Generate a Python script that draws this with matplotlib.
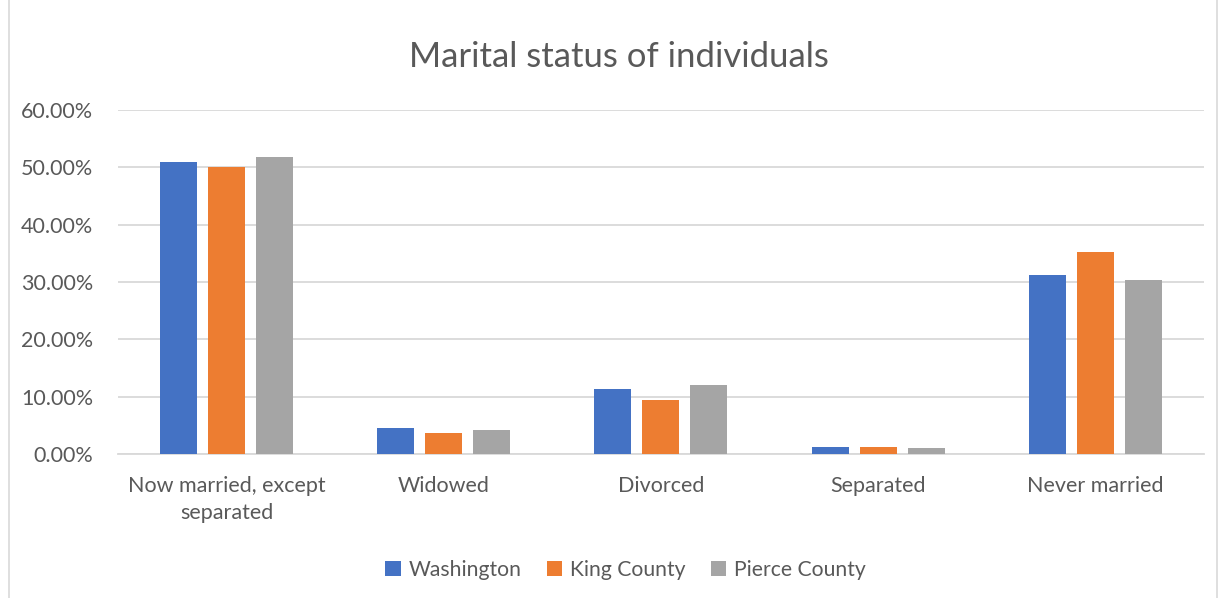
import matplotlib.pyplot as plt
import matplotlib.ticker as mticker
from matplotlib.patches import Rectangle
import numpy as np

plt.rcParams['font.family'] = ['Lato', 'DejaVu Sans']

categories = ["Now married, except\nseparated", "Widowed", "Divorced", "Separated", "Never married"]
series = ["Washington", "King County", "Pierce County"]
washington = [0.510, 0.046, 0.114, 0.012, 0.313]
king = [0.500, 0.036, 0.095, 0.012, 0.352]
pierce = [0.518, 0.042, 0.121, 0.011, 0.304]
colors = ["#4472C4", "#ED7D31", "#A5A5A5"]

text_col = "#595959"
grid_col = "#D9D9D9"

fig = plt.figure(figsize=(12.26, 5.98), dpi=100)
ax = fig.add_axes([0.0962, 0.2408, 0.8858, 0.5752])

x = np.arange(len(categories))
w = 0.17
off = 0.221
for i, vals in enumerate([washington, king, pierce]):
    ax.bar(x + (i - 1) * off, vals, w, color=colors[i], label=series[i],
           linewidth=0, zorder=3)

ax.set_xlim(-0.5, 4.5)
ax.set_ylim(0, 0.6)
ax.yaxis.set_major_locator(mticker.MultipleLocator(0.1))
ax.yaxis.set_major_formatter(mticker.FuncFormatter(lambda v, p: f"{v*100:.2f}%"))
ax.grid(axis="y", color=grid_col, linewidth=1.3, zorder=0)
for s in ["top", "right", "left"]:
    ax.spines[s].set_visible(False)
ax.spines["bottom"].set_color(grid_col)
ax.spines["bottom"].set_linewidth(1.3)
ax.tick_params(axis="both", length=0, labelsize=15.5, colors=text_col)
ax.tick_params(axis="y", pad=18)
ax.tick_params(axis="x", pad=16)
ax.set_xticks(x)
ax.set_xticklabels(categories, linespacing=1.45)

fig.text(0.505, 0.905, "Marital status of individuals", ha="center", va="center",
         fontsize=25, color=text_col)

fig.legend(loc="center", bbox_to_anchor=(0.51, 0.047), ncol=3, frameon=False,
           fontsize=15.2, labelcolor=text_col, handlelength=0.75, handleheight=0.75,
           handletextpad=0.35, columnspacing=1.2)

fig.patches.append(Rectangle((0.007, -0.01), 0.986, 1.02, transform=fig.transFigure,
                             fill=False, edgecolor=grid_col, linewidth=1.2))

fig.savefig("out.png", dpi=100, facecolor="white")
